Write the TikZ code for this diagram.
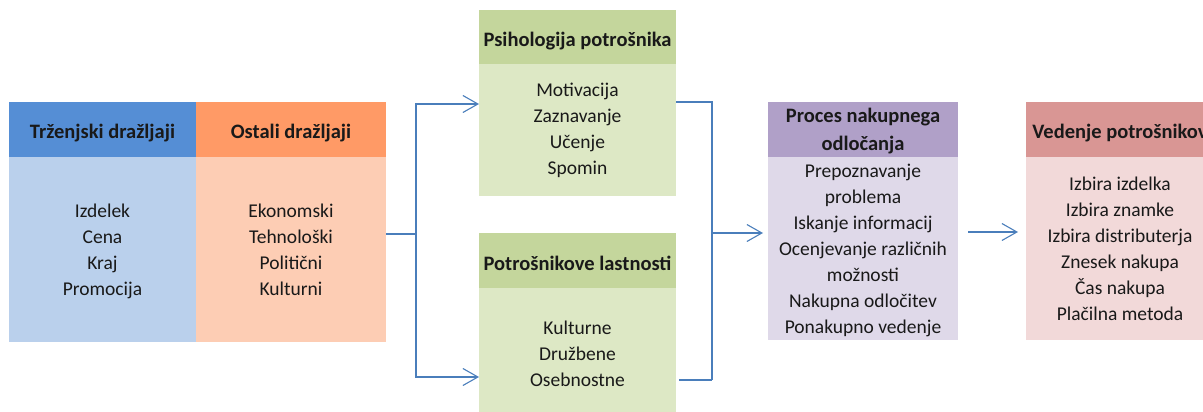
\documentclass[tikz,border=0pt]{standalone}
\usepackage{fontspec}
\setmainfont{Carlito}
\usetikzlibrary{arrows.meta}

\definecolor{blueHead}{HTML}{558ED5}
\definecolor{blueBody}{HTML}{BAD0EC}
\definecolor{orangeHead}{HTML}{FF9A66}
\definecolor{orangeBody}{HTML}{FDCDB4}
\definecolor{greenHead}{HTML}{C4D69C}
\definecolor{greenBody}{HTML}{DDE8C5}
\definecolor{purpleHead}{HTML}{B0A0C8}
\definecolor{purpleBody}{HTML}{DFD9E9}
\definecolor{redHead}{HTML}{D99694}
\definecolor{redBody}{HTML}{F2D9D9}
\definecolor{lineBlue}{HTML}{4A7EBB}

\tikzset{
  box/.style={rectangle, anchor=north west, inner sep=0pt, outer sep=0pt,
    align=center, text=black!90},
  hdr/.style={box, font=\fontsize{20.5}{28}\selectfont\bfseries},
  hdrline/.style={hdr, text height=24pt, text depth=5pt},
  bdy/.style={box, font=\fontsize{19.5}{26}\selectfont},
  link/.style={draw=lineBlue, line width=1.1pt},
  arr/.style={link, -{Straight Barb[length=15pt,width=17pt,line width=1.1pt]}},
}

\begin{document}
\begin{tikzpicture}[x=1pt,y=-1pt]
\useasboundingbox (0,0) rectangle (1203,412);
\clip (0,0) rectangle (1203,412);

% stimuli
\node[hdrline, fill=blueHead, minimum width=187pt, minimum height=55pt] (th) at (9,102) {Trženjski dražljaji};
\node[bdy, fill=blueBody, minimum width=187pt, minimum height=185pt, text depth=0pt] (tb) at (9,157) {Izdelek\\Cena\\Kraj\\Promocija};
\node[hdrline, fill=orangeHead, minimum width=190pt, minimum height=55pt] (oh) at (196,102) {Ostali dražljaji};
\node[bdy, fill=orangeBody, minimum width=190pt, minimum height=185pt] (ob) at (196,157) {Ekonomski\\Tehnološki\\Politični\\Kulturni};

% consumer psychology and characteristics
\node[hdrline, fill=greenHead, minimum width=197pt, minimum height=54pt] (ph) at (479,10) {Psihologija potrošnika};
\node[bdy, fill=greenBody, minimum width=197pt, minimum height=132pt] (pb) at (479,64) {Motivacija\\Zaznavanje\\Učenje\\Spomin};
\node[hdrline, fill=greenHead, minimum width=197pt, minimum height=55pt] (qh) at (479,233) {Potrošnikove lastnosti};
\node[bdy, fill=greenBody, minimum width=197pt, minimum height=132pt] (qb) at (479,288) {Kulturne\\Družbene\\Osebnostne};

% decision process
\node[hdr, fill=purpleHead, minimum width=190pt, minimum height=55pt, text depth=0pt] (rh) at (768,102) {Proces nakupnega\\odločanja};
\node[bdy, fill=purpleBody, minimum width=190pt, minimum height=183pt, text depth=0pt] (rb) at (768,157) {Prepoznavanje\\problema\\Iskanje informacij\\Ocenjevanje različnih\\možnosti\\Nakupna odločitev\\Ponakupno vedenje};

% consumer behaviour
\node[hdrline, fill=redHead, minimum width=188pt, minimum height=55pt] (vh) at (1026,102) {Vedenje potrošnikov};
\node[bdy, fill=redBody, minimum width=188pt, minimum height=183pt] (vb) at (1026,157) {Izbira izdelka\\Izbira znamke\\Izbira distributerja\\Znesek nakupa\\Čas nakupa\\Plačilna metoda};

% split from stimuli to the two green blocks
\coordinate (split) at (416,234);
\draw[link] ([yshift=15.5pt]ob.east) -- (split);
\draw[arr] (split) |- ([yshift=26pt]pb.west);
\draw[arr] (split) |- ([yshift=-23pt]qb.west);

% merge into the decision process
\coordinate (mergeTop) at (712,102);
\coordinate (mergeBot) at (712,380);
\coordinate (mergeMid) at (713,233);
\draw[link] ([yshift=28pt]pb.east) -- (mergeTop) -- (mergeBot);
\draw[link] ([yshift=-26pt,xshift=3pt]qb.east) -- (mergeBot);
\draw[arr, shorten >=5pt] (mergeMid) -- ([yshift=15.5pt]rb.west);

% decision process to behaviour
\draw[arr, shorten <=10pt, shorten >=8pt] ([yshift=16.5pt]rb.east) -- ([yshift=16.5pt]vb.west);
\end{tikzpicture}
\end{document}
